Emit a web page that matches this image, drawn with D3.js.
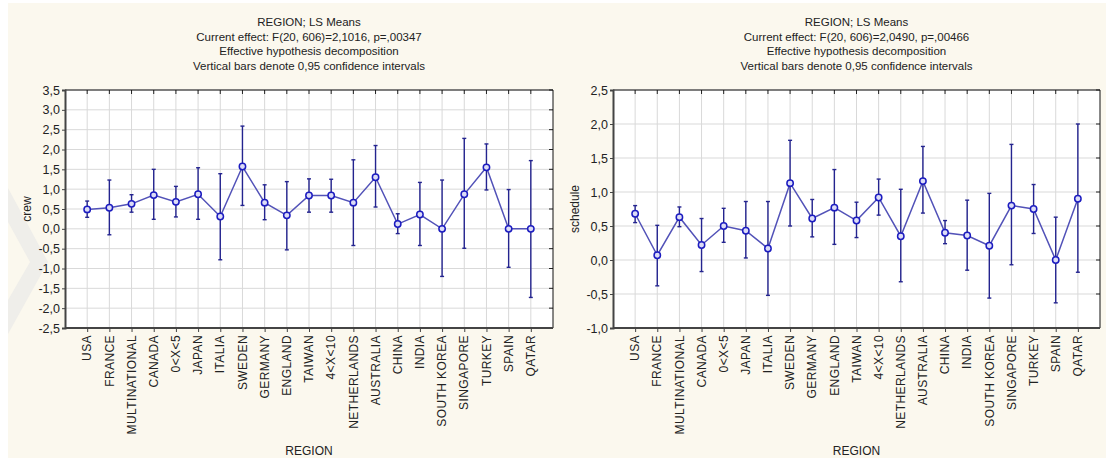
<!DOCTYPE html>
<html><head><meta charset="utf-8">
<script src="https://cdn.jsdelivr.net/npm/d3@7"></script>
<style>
html,body{margin:0;padding:0;background:#fff;}
svg{display:block;font-family:"Liberation Sans",Arial,sans-serif;}
</style></head>
<body><svg id="c" width="1106" height="461"></svg>
<script>
const categories = ["USA","FRANCE","MULTINATIONAL","CANADA","0<X<5","JAPAN","ITALIA","SWEDEN","GERMANY","ENGLAND","TAIWAN","4<X<10","NETHERLANDS","AUSTRALIA","CHINA","INDIA","SOUTH KOREA","SINGAPORE","TURKEY","SPAIN","QATAR"];

const crewMean = [0.49,0.53,0.63,0.85,0.68,0.87,0.31,1.57,0.66,0.34,0.84,0.84,0.66,1.30,0.12,0.36,0.00,0.87,1.55,0.00,0.00];
const crewLow  = [0.29,-0.15,0.42,0.24,0.30,0.24,-0.78,0.59,0.23,-0.53,0.42,0.42,-0.42,0.55,-0.12,-0.42,-1.20,-0.49,0.98,-0.97,-1.73];
const crewHigh = [0.70,1.23,0.86,1.50,1.07,1.54,1.39,2.59,1.11,1.19,1.26,1.25,1.74,2.10,0.38,1.17,1.23,2.28,2.14,0.99,1.72];

const schedMean = [0.68,0.07,0.63,0.22,0.50,0.43,0.17,1.13,0.61,0.77,0.58,0.92,0.35,1.16,0.40,0.36,0.21,0.80,0.75,0.00,0.90];
const schedLow  = [0.55,-0.38,0.49,-0.17,0.26,0.03,-0.52,0.50,0.34,0.23,0.33,0.66,-0.32,0.69,0.24,-0.15,-0.56,-0.07,0.39,-0.63,-0.18];
const schedHigh = [0.80,0.51,0.78,0.61,0.76,0.86,0.86,1.76,0.89,1.33,0.85,1.19,1.04,1.67,0.58,0.88,0.98,1.70,1.11,0.63,2.00];

const crewTicks = [-2.5,-2.0,-1.5,-1.0,-0.5,0.0,0.5,1.0,1.5,2.0,2.5,3.0,3.5];
const schedTicks = [-1.0,-0.5,0.0,0.5,1.0,1.5,2.0,2.5];

const titlesLeft = ["REGION; LS Means","Current effect: F(20, 606)=2,1016, p=,00347","Effective hypothesis decomposition","Vertical bars denote 0,95 confidence intervals"];
const titlesRight = ["REGION; LS Means","Current effect: F(20, 606)=2,0490, p=,00466","Effective hypothesis decomposition","Vertical bars denote 0,95 confidence intervals"];

const svg = d3.select("#c");
svg.append("rect").attr("x",8).attr("y",3).attr("width",1098).attr("height",455).attr("fill","#fbf8ee");
// faint watermark
svg.append("path").attr("d","M8,188 L48,262 L8,334 L8,300 L30,262 L8,222 Z").attr("fill","#efeeea");

const fmt = v => d3.format(".1f")(v).replace(".", ",").replace("−","-");

function panel(cfg){
  const {L,R,T,B,mean,low,high,ticks,titles,ylabel} = cfg;
  const x = d3.scalePoint().domain(categories).range([L,R]).padding(1);
  const y = d3.scaleLinear().domain([ticks[0], ticks[ticks.length-1]]).range([B,T]);
  const g = svg.append("g");
  g.append("rect").attr("x",L).attr("y",T).attr("width",R-L).attr("height",B-T).attr("fill","#fff");
  // grid
  g.append("g").selectAll("line").data(ticks).join("line")
    .attr("x1",L).attr("x2",R).attr("y1",d=>y(d)).attr("y2",d=>y(d))
    .attr("stroke","#d9d9d9").attr("stroke-width",1);
  g.append("g").selectAll("line").data(categories).join("line")
    .attr("x1",d=>x(d)).attr("x2",d=>x(d)).attr("y1",T).attr("y2",B)
    .attr("stroke","#d9d9d9").attr("stroke-width",1);
  // inner ticks right & top
  g.append("g").selectAll("line").data(ticks).join("line")
    .attr("x1",R-4).attr("x2",R).attr("y1",d=>y(d)).attr("y2",d=>y(d)).attr("stroke","#222");
  g.append("g").selectAll("line").data(categories).join("line")
    .attr("x1",d=>x(d)).attr("x2",d=>x(d)).attr("y1",T).attr("y2",T+4).attr("stroke","#222");
  // frame
  g.append("line").attr("x1",L).attr("x2",R).attr("y1",T).attr("y2",T).attr("stroke","#111");
  g.append("line").attr("x1",R).attr("x2",R).attr("y1",T).attr("y2",B).attr("stroke","#111");
  // axes
  const ya = d3.axisLeft(y).tickValues(ticks).tickFormat(fmt).tickSize(3).tickPadding(2);
  const yg = g.append("g").attr("transform",`translate(${L},0)`).call(ya);
  yg.select(".domain").attr("stroke","#444").attr("stroke-width",2);
  yg.selectAll(".tick line").attr("stroke","#444");
  yg.selectAll("text").attr("font-size","12.5px").attr("fill","#222").attr("font-family","Liberation Sans, Arial, sans-serif");
  const xa = d3.axisBottom(x).tickSize(4).tickFormat("");
  const xg = g.append("g").attr("transform",`translate(0,${B})`).call(xa);
  xg.select(".domain").attr("stroke","#444").attr("stroke-width",2).attr("d",`M${L},0H${R}`);
  xg.selectAll(".tick line").attr("stroke","#444");
  // category labels
  g.append("g").selectAll("text").data(categories).join("text")
    .attr("transform",d=>`translate(${x(d)},${B+7}) rotate(-90)`)
    .attr("dy","0.35em").attr("text-anchor","end").attr("font-size","12px")
    .attr("letter-spacing","0.4px").attr("fill","#222")
    .text(d=>d);
  // data line
  const pts = categories.map((c,i)=>({c,m:mean[i],lo:low[i],hi:high[i]}));
  g.append("path").datum(pts).attr("fill","none").attr("stroke","#5252b8").attr("stroke-width",1.5)
    .attr("d",d3.line().x(d=>x(d.c)).y(d=>y(d.m)));
  const eb = g.append("g").attr("stroke","#24248f").attr("stroke-width",1.4);
  eb.selectAll(".v").data(pts).join("line").attr("x1",d=>x(d.c)).attr("x2",d=>x(d.c))
    .attr("y1",d=>y(d.lo)).attr("y2",d=>y(d.hi));
  eb.selectAll(".h1").data(pts).join("line").attr("x1",d=>x(d.c)-2).attr("x2",d=>x(d.c)+2)
    .attr("y1",d=>y(d.hi)).attr("y2",d=>y(d.hi));
  eb.selectAll(".h2").data(pts).join("line").attr("x1",d=>x(d.c)-2).attr("x2",d=>x(d.c)+2)
    .attr("y1",d=>y(d.lo)).attr("y2",d=>y(d.lo));
  g.append("g").selectAll("circle").data(pts).join("circle")
    .attr("cx",d=>x(d.c)).attr("cy",d=>y(d.m)).attr("r",3.2)
    .attr("fill","#dcdcf6").attr("stroke","#1c1cc0").attr("stroke-width",1.5);
  // titles
  const cx = (L+R)/2;
  g.append("g").selectAll("text").data(titles).join("text")
    .attr("x",cx).attr("y",(d,i)=>26+i*14.5).attr("text-anchor","middle")
    .attr("font-size","11.5px").attr("fill","#222").text(d=>d);
  g.append("text").attr("x",cx).attr("y",455).attr("text-anchor","middle").attr("font-size","12px").attr("fill","#222").text("REGION");
  g.append("text").attr("transform",`translate(${L-34},${(T+B)/2}) rotate(-90)`).attr("text-anchor","middle")
    .attr("font-size","12px").attr("fill","#222").text(ylabel);
}

panel({L:65,R:553,T:90,B:328,mean:crewMean,low:crewLow,high:crewHigh,ticks:crewTicks,titles:titlesLeft,ylabel:"crew"});
panel({L:613,R:1100,T:90,B:328,mean:schedMean,low:schedLow,high:schedHigh,ticks:schedTicks,titles:titlesRight,ylabel:"schedule"});
</script></body></html>
